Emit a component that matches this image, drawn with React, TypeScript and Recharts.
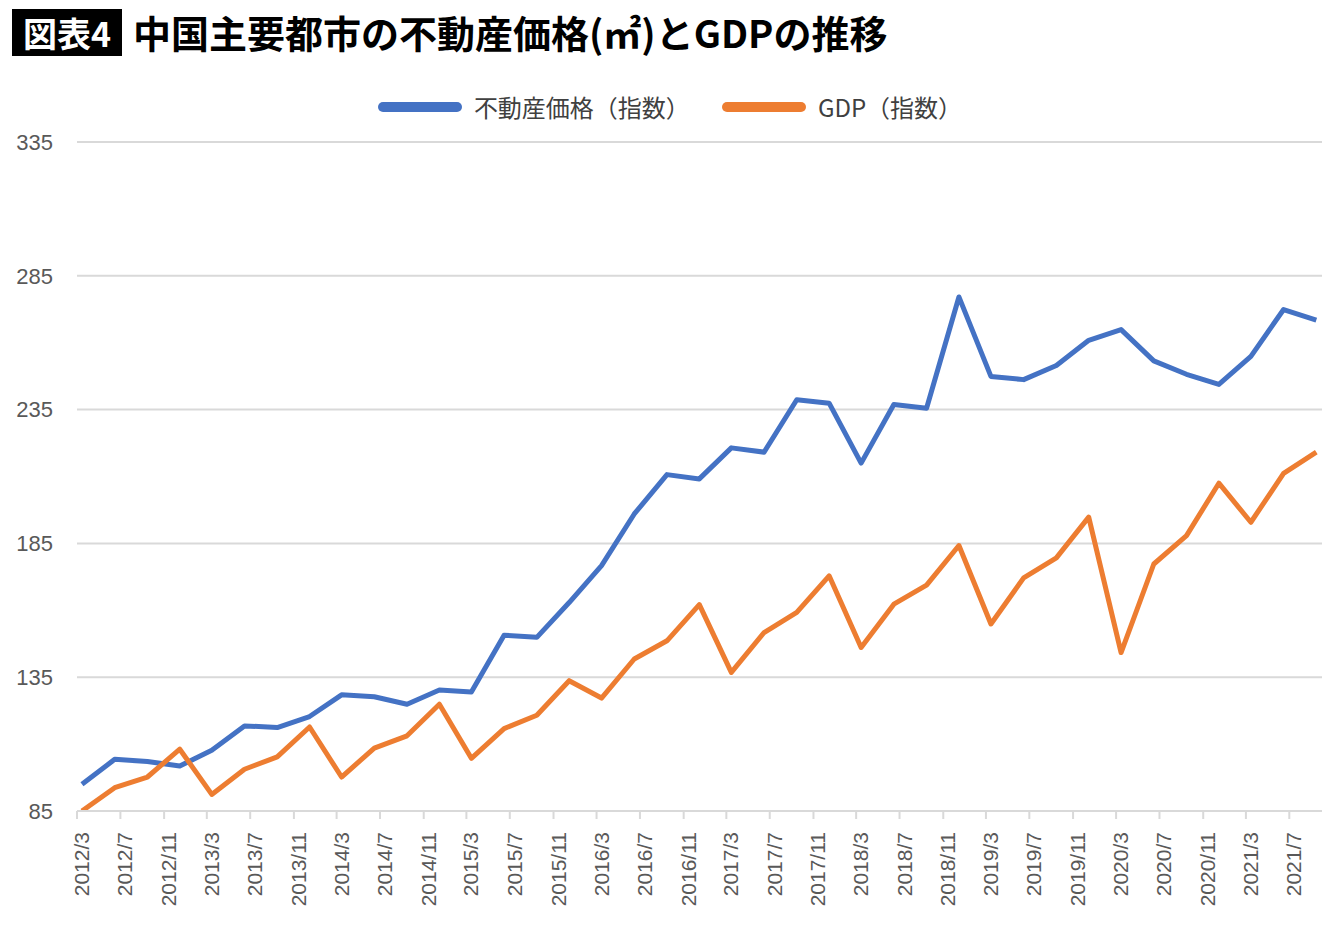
import React from "react";
import { LineChart, Line, XAxis, YAxis, CartesianGrid } from "recharts";

// quarterly observations (end-of-quarter month)
const quarters = [
  "2012/3", "2012/6", "2012/9", "2012/12",
  "2013/3", "2013/6", "2013/9", "2013/12",
  "2014/3", "2014/6", "2014/9", "2014/12",
  "2015/3", "2015/6", "2015/9", "2015/12",
  "2016/3", "2016/6", "2016/9", "2016/12",
  "2017/3", "2017/6", "2017/9", "2017/12",
  "2018/3", "2018/6", "2018/9", "2018/12",
  "2019/3", "2019/6", "2019/9", "2019/12",
  "2020/3", "2020/6", "2020/9", "2020/12",
  "2021/3", "2021/6", "2021/9",
];

const realEstate = [
  95.0, 104.3, 103.5, 101.8, 107.7, 116.8, 116.2, 120.3, 128.4, 127.7,
  124.9, 130.2, 129.5, 150.7, 149.9, 162.9, 176.7, 196.0, 210.7, 209.1,
  220.7, 219.1, 238.7, 237.4, 215.0, 236.9, 235.5, 277.1, 247.4, 246.2,
  251.5, 260.9, 264.9, 253.2, 248.2, 244.4, 254.9, 272.4, 268.4,
];

const gdp = [
  85.0, 93.7, 97.7, 108.1, 91.2, 100.6, 105.2, 116.4, 97.7, 108.5,
  113.1, 124.9, 104.7, 115.8, 120.8, 133.7, 127.2, 141.8, 148.6, 162.1,
  136.8, 151.7, 159.2, 172.9, 146.1, 162.3, 169.4, 184.2, 154.9, 172.1,
  179.6, 194.8, 144.2, 177.3, 187.9, 207.5, 192.9, 211.2, 219.1,
];

// x-axis labels every 4 months, like Excel's date axis
const tickLabels = [
  "2012/3", "2012/7", "2012/11", "2013/3", "2013/7", "2013/11",
  "2014/3", "2014/7", "2014/11", "2015/3", "2015/7", "2015/11",
  "2016/3", "2016/7", "2016/11", "2017/3", "2017/7", "2017/11",
  "2018/3", "2018/7", "2018/11", "2019/3", "2019/7", "2019/11",
  "2020/3", "2020/7", "2020/11", "2021/3", "2021/7",
];
const yTicks = [85, 135, 185, 235, 285, 335];

const BLUE = "#4472C4";
const ORANGE = "#ED7D31";
const GRID = "#d9d9d9";
const LABEL = "#595959";
const JP = '"Noto Sans CJK JP", "Noto Sans", sans-serif';
const LATIN = '"Liberation Sans", Arial, sans-serif';

const toTime = (s: string, day: number) => {
  const [y, m] = s.split("/").map(Number);
  return Date.UTC(y, m - 1, day);
};

const data = quarters.map((q, i) => ({
  t: toTime(q, 15),
  realEstate: realEstate[i],
  gdp: gdp[i],
}));

const xTicks = tickLabels.map((s) => toTime(s, 1));
const labelByTime: Record<number, string> = {};
tickLabels.forEach((s) => (labelByTime[toTime(s, 1)] = s));

const XTick = (props: any) => {
  const { x, y, payload } = props;
  return (
    <text
      transform={`translate(${x + 12},${y + 11}) rotate(-90)`}
      textAnchor="end"
      fontSize={21}
      fill={LABEL}
      fontFamily={LATIN}
    >
      {labelByTime[payload.value]}
    </text>
  );
};

const legendItems = [
  { label: "不動産価格（指数）", color: BLUE },
  { label: "GDP（指数）", color: ORANGE },
];

export default function App() {
  return (
    <div
      style={{
        position: "absolute",
        left: 0,
        top: 0,
        width: 1340,
        height: 934,
        background: "#fff",
      }}
    >
      <div
        style={{
          position: "absolute",
          left: 12,
          top: 9,
          width: 110,
          height: 47,
          background: "#000",
          color: "#fff",
          fontFamily: JP,
          fontWeight: 700,
          fontSize: 34,
          lineHeight: "47px",
          textAlign: "center",
        }}
      >
        図表4
      </div>
      <div
        style={{
          position: "absolute",
          left: 133,
          top: 4,
          fontFamily: JP,
          fontWeight: 700,
          fontSize: 38,
          lineHeight: "56px",
          color: "#000",
          whiteSpace: "nowrap",
        }}
      >
        中国主要都市の不動産価格(㎡)とGDPの推移
      </div>

      {/* legend */}
      <div
        style={{
          position: "absolute",
          top: 89,
          left: 0,
          width: 1340,
          display: "flex",
          justifyContent: "center",
          alignItems: "center",
          gap: 32,
          fontFamily: JP,
          fontSize: 24,
          lineHeight: "36px",
          color: "#404040",
        }}
      >
        {legendItems.map((it) => (
          <div key={it.label} style={{ display: "flex", alignItems: "center" }}>
            <span
              style={{
                display: "inline-block",
                width: 84,
                height: 10,
                borderRadius: 5,
                background: it.color,
                marginRight: 12,
              }}
            />
            <span>{it.label}</span>
          </div>
        ))}
      </div>

      <LineChart
        width={1340}
        height={934}
        data={data}
        margin={{ top: 142, right: 18, bottom: 23, left: 0 }}
      >
        <CartesianGrid vertical={false} stroke={GRID} strokeWidth={2} />
        <XAxis
          dataKey="t"
          type="number"
          scale="time"
          domain={[toTime("2012/3", 1), toTime("2021/10", 1)]}
          ticks={xTicks}
          interval={0}
          height={100}
          axisLine={{ stroke: GRID, strokeWidth: 2 }}
          tickLine={{ stroke: GRID, strokeWidth: 2 }}
          tickSize={8}
          tick={<XTick />}
        />
        <YAxis
          width={77}
          domain={[85, 335]}
          ticks={yTicks}
          allowDataOverflow
          axisLine={false}
          tickLine={false}
          tickSize={0}
          tickMargin={24}
          tick={{ fill: LABEL, fontSize: 22, fontFamily: LATIN }}
        />
        <Line
          type="linear"
          dataKey="realEstate"
          name="不動産価格（指数）"
          stroke={BLUE}
          strokeWidth={5}
          strokeLinejoin="round"
          dot={false}
          isAnimationActive={false}
        />
        <Line
          type="linear"
          dataKey="gdp"
          name="GDP（指数）"
          stroke={ORANGE}
          strokeWidth={5}
          strokeLinejoin="round"
          dot={false}
          isAnimationActive={false}
        />
      </LineChart>
    </div>
  );
}
